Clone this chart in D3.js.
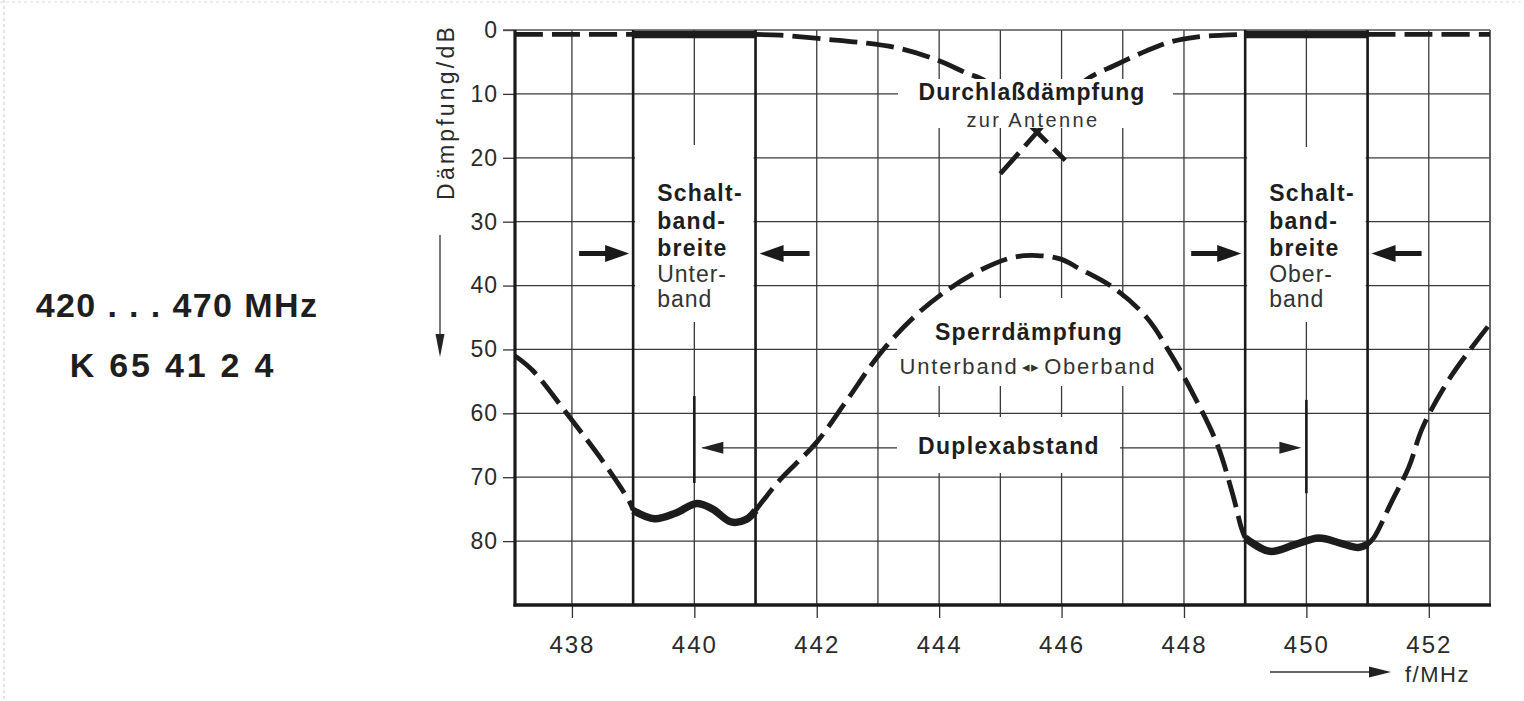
<!DOCTYPE html>
<html><head><meta charset="utf-8">
<script src="https://cdn.jsdelivr.net/npm/d3@7"></script>
<style>body{margin:0;background:#fff}svg{display:block}</style>
</head><body>
<svg id="c" width="1524" height="701"></svg>
<script>
// ---------- data ----------
const xTickValues = [438, 440, 442, 444, 446, 448, 450, 452];
const yTickValues = [0, 10, 20, 30, 40, 50, 60, 70, 80];
const gridFreqs = [438, 439, 440, 441, 442, 443, 444, 445, 446, 447, 448, 449, 450, 451, 452];
const gridLevels = [10, 20, 30, 40, 50, 60, 70, 80];
const bandLower = [439, 441];
const bandUpper = [449, 451];
const duplexMarkers = [440, 450];
// Durchlaßdämpfung (passband to antenna), lower band filter [MHz, dB]
const passLower = [[437.07,0.7],[438,0.7],[439,0.7],[440,0.7],[441,0.7],[441.4,0.8],[442.1,1.4],[442.76,2.0],[443.36,2.9],[443.97,4.7],[444.46,6.8],[444.72,7.8],[445.2,12.2],[445.6,16.0],[446.06,20.4]];
// Durchlaßdämpfung, upper band filter
const passUpper = [[445.0,22.5],[445.6,16.0],[446.0,11.6],[446.4,7.8],[446.9,5.4],[447.4,3.2],[447.8,1.8],[448.2,1.1],[448.65,0.8],[449,0.7],[450,0.7],[451,0.7],[452,0.7],[453,0.7]];
// Sperrdämpfung Unterband <-> Oberband
const stopband = [[437.07,51.0],[437.36,53.3],[437.97,60.7],[438.46,66.9],[438.95,74.0],[439.0,75.2],[439.35,76.5],[439.7,75.6],[440.04,74.1],[440.3,75.0],[440.6,77.0],[440.85,76.6],[441.0,75.2],[441.12,73.7],[441.4,70.4],[442.0,64.5],[442.49,58.0],[443.03,50.7],[443.58,45.0],[444.12,40.8],[444.67,37.6],[445.2,35.6],[445.6,35.3],[446.0,35.9],[446.3,37.4],[446.84,40.3],[447.39,45.0],[447.8,51.0],[448.15,57.0],[448.54,64.8],[448.8,72.8],[448.94,78.0],[449.0,79.5],[449.4,81.6],[449.8,80.6],[450.2,79.5],[450.55,80.3],[450.85,81.0],[451.0,80.5],[451.1,79.5],[451.4,73.7],[451.67,68.5],[451.9,62.2],[452.35,54.4],[453.0,46.0]];
const yTitle = "Dämpfung/dB";
const xTitle = "f/MHz";
const headline = ["420 . . . 470 MHz", "K 65 41 2 4"];
const passLabel = ["Durchlaßdämpfung", "zur Antenne"];
const stopLabel = ["Sperrdämpfung", "Unterband", "◂▸", "Oberband"];
const duplexLabel = "Duplexabstand";
const bandLabelBold = ["Schalt-", "band-", "breite"];
const bandLabelLower = ["Unter-", "band"];
const bandLabelUpper = ["Ober-", "band"];

// ---------- chart ----------
const svg = d3.select("#c");
const FONT = "'Liberation Sans', Arial, Helvetica, sans-serif";
const INK = "#1e1e1e";
const x = d3.scaleLinear().domain([437.07, 453]).range([515, 1490]);
const y = d3.scaleLinear().domain([0, 90]).range([30, 605]);

svg.append("rect").attr("width", 1524).attr("height", 701).attr("fill", "#fff");
// faint scan border
svg.append("line").attr("x1", 4).attr("x2", 4).attr("y1", 0).attr("y2", 701)
  .attr("stroke", "#e4e4e4").attr("stroke-width", 2).attr("stroke-dasharray", "3,3");
svg.append("line").attr("x1", 0).attr("x2", 1524).attr("y1", 2).attr("y2", 2)
  .attr("stroke", "#e8e8e8").attr("stroke-width", 1.5).attr("stroke-dasharray", "3,3");

const grid = svg.append("g").attr("stroke", "#3a3a3a").attr("stroke-width", 1.3);
grid.selectAll(".gx").data(gridFreqs).join("line")
  .attr("x1", d => x(d)).attr("x2", d => x(d)).attr("y1", y(0)).attr("y2", y(90));
grid.selectAll(".gy").data(gridLevels).join("line")
  .attr("x1", x(437.07)).attr("x2", x(453)).attr("y1", d => y(d)).attr("y2", d => y(d));

// white label backgrounds hiding the grid
const masks = [
  [x(439) + 2, 145, x(441) - x(439) - 4, 177],
  [x(449) + 2, 147, x(451) - x(449) - 4, 175],
  [897, 298, 268, 88],
  [897, 417, 223, 56]
];
svg.append("g").selectAll("rect").data(masks).join("rect")
  .attr("x", d => d[0]).attr("y", d => d[1]).attr("width", d => d[2]).attr("height", d => d[3])
  .attr("fill", "#fff");

// axes
const yAxis = d3.axisLeft(y).tickValues(yTickValues).tickSize(12).tickPadding(5);
const gy = svg.append("g").attr("transform", `translate(${x(437.07)},0)`).call(yAxis);
gy.select(".domain").remove();
gy.selectAll("line").attr("stroke", "#333").attr("stroke-width", 1.3);
gy.selectAll("text").attr("font-family", FONT).attr("font-size", 23).attr("fill", "#2a2a2a")
  .attr("letter-spacing", 1);

const xAxis = d3.axisBottom(x).tickValues(xTickValues).tickSize(13).tickPadding(18);
const gx = svg.append("g").attr("transform", `translate(0,${y(90)})`).call(xAxis);
gx.select(".domain").remove();
gx.selectAll("line").attr("stroke", "#333").attr("stroke-width", 1.3);
gx.selectAll("text").attr("font-family", FONT).attr("font-size", 24).attr("fill", "#2a2a2a")
  .attr("letter-spacing", 2);

// frame
const fr = svg.append("g");
fr.append("line").attr("x1", x(437.07) - 12).attr("x2", x(453)).attr("y1", y(0)).attr("y2", y(0))
  .attr("stroke", "#555").attr("stroke-width", 1.5);
fr.append("line").attr("x1", x(453)).attr("x2", x(453)).attr("y1", y(0)).attr("y2", y(90))
  .attr("stroke", "#555").attr("stroke-width", 1.8);
fr.append("line").attr("x1", x(437.07)).attr("x2", x(437.07)).attr("y1", y(0)).attr("y2", y(90) + 1.5)
  .attr("stroke", "#1a1a1a").attr("stroke-width", 3.2);
fr.append("line").attr("x1", x(437.07) - 1.5).attr("x2", x(453) + 1).attr("y1", y(90)).attr("y2", y(90))
  .attr("stroke", "#1a1a1a").attr("stroke-width", 3.5);
// band boundaries
fr.selectAll(".band").data([...bandLower, ...bandUpper]).join("line")
  .attr("x1", d => x(d)).attr("x2", d => x(d)).attr("y1", y(0)).attr("y2", y(90))
  .attr("stroke", "#1a1a1a").attr("stroke-width", 2.6);

// curves
const line = d3.line().x(d => x(d[0])).y(d => y(d[1])).curve(d3.curveCatmullRom.alpha(0.5));
const seg = (arr, a, b) => arr.filter(d => d[0] >= a - 1e-9 && d[0] <= b + 1e-9);
const dashed = (data) => svg.append("path").attr("d", line(data)).attr("fill", "none")
  .attr("stroke", "#1c1c1c").attr("stroke-width", 4.8).attr("stroke-dasharray", "28,9");
const thick = (data) => svg.append("path").attr("d", line(data)).attr("fill", "none")
  .attr("stroke", "#1c1c1c").attr("stroke-width", 7.5).attr("stroke-linecap", "butt");

dashed(seg(passLower, 437.07, bandLower[0]));
dashed(seg(passLower, bandLower[1], 447));
thick(seg(passLower, bandLower[0], bandLower[1]));
dashed(seg(passUpper, 444, bandUpper[0]));
dashed(seg(passUpper, bandUpper[1], 453));
thick(seg(passUpper, bandUpper[0], bandUpper[1]));
dashed(seg(stopband, 437.07, bandLower[0]));
dashed(seg(stopband, bandLower[1], bandUpper[0]));
dashed(seg(stopband, bandUpper[1], 453));
thick(seg(stopband, bandLower[0], bandLower[1]));
thick(seg(stopband, bandUpper[0], bandUpper[1]));

// mask behind passband label (hides curve tops)
svg.append("rect").attr("x", 898).attr("y", 79).attr("width", 275).attr("height", 49).attr("fill", "#fff");

// duplex markers
svg.selectAll(".dm").data(duplexMarkers).join("line")
  .attr("x1", d => x(d)).attr("x2", d => x(d))
  .attr("y1", (d, i) => y(i ? 57.9 : 57.3)).attr("y2", (d, i) => y(i ? 72.5 : 70.9))
  .attr("stroke", "#1a1a1a").attr("stroke-width", 2.6);
// dimension line
const dimY = y(65.4);
const dl = svg.append("g").attr("stroke", "#333").attr("stroke-width", 1.3);
dl.append("line").attr("x1", x(440) + 8).attr("x2", 897).attr("y1", dimY).attr("y2", dimY);
dl.append("line").attr("x1", 1120).attr("x2", x(450) - 8).attr("y1", dimY).attr("y2", dimY);
const tri = (tipX, tipY, dir, len, half) =>
  `M${tipX},${tipY}L${tipX - dir * len},${tipY - half}L${tipX - dir * len},${tipY + half}Z`;
svg.append("path").attr("d", tri(x(440) + 7, dimY, -1, 22, 6)).attr("fill", "#222");
svg.append("path").attr("d", tri(x(450) - 5, dimY, 1, 22, 6)).attr("fill", "#222");

// bold band arrows
const bandArrows = [[bandLower[0], 1], [bandLower[1], -1], [bandUpper[0], 1], [bandUpper[1], -1]];
const ay = y(35);
bandArrows.forEach(([edge, dir]) => {
  const tip = x(edge) - dir * 4;
  const tail = tip - dir * 50;
  svg.append("line").attr("x1", tail).attr("x2", tip - dir * 18).attr("y1", ay).attr("y2", ay)
    .attr("stroke", "#1a1a1a").attr("stroke-width", 5);
  svg.append("path").attr("d", tri(tip, ay, dir, 24, 8.5)).attr("fill", "#1a1a1a");
});

// y axis direction arrow
svg.append("line").attr("x1", 440).attr("x2", 440).attr("y1", 235).attr("y2", 340)
  .attr("stroke", "#333").attr("stroke-width", 1.3);
svg.append("path").attr("d", "M440,357L435.5,334L444.5,334Z").attr("fill", "#222");
// f/MHz arrow
svg.append("line").attr("x1", 1270).attr("x2", 1375).attr("y1", 672).attr("y2", 672)
  .attr("stroke", "#333").attr("stroke-width", 1.3);
svg.append("path").attr("d", tri(1391, 672, 1, 22, 5.5)).attr("fill", "#222");

// texts
const T = (txt, px, py, size, weight, anchor, ls) => svg.append("text")
  .attr("x", px).attr("y", py).attr("font-family", FONT).attr("font-size", size)
  .attr("font-weight", weight).attr("text-anchor", anchor).attr("fill", INK)
  .attr("letter-spacing", ls).text(txt);

T(headline[0], 177, 317, 34, "bold", "middle", 1.4);
T(headline[1], 173, 377, 34, "bold", "middle", 2.8);

svg.append("text").attr("transform", "translate(454,112) rotate(-90)")
  .attr("font-family", FONT).attr("font-size", 23).attr("text-anchor", "middle")
  .attr("fill", "#2a2a2a").attr("letter-spacing", 3.2).text(yTitle);
T(xTitle, 1405, 682, 22, "normal", "start", 1.5).attr("fill", "#2a2a2a");

T(passLabel[0], 1032, 100, 23, "bold", "middle", 1);
T(passLabel[1], 1033, 127, 20, "normal", "middle", 2.4).attr("fill", "#333");

const st = svg.append("text").attr("x", 1028).attr("y", 374).attr("font-family", FONT)
  .attr("font-size", 22).attr("text-anchor", "middle").attr("fill", "#333").attr("letter-spacing", 1.8);
st.append("tspan").text(stopLabel[1]);
st.append("tspan").attr("font-size", 15).attr("dx", 3).attr("dy", -2).text(stopLabel[2]);
st.append("tspan").attr("dx", 3).attr("dy", 2).text(stopLabel[3]);
T(stopLabel[0], 1029, 340, 23, "bold", "middle", 1.3);
T(duplexLabel, 1009, 454, 23, "bold", "middle", 1.3);

const bandRows = [201, 229, 256, 282, 307];
[[bandLower, bandLabelLower], [bandUpper, bandLabelUpper]].forEach(([band, sub]) => {
  const lx = x(band[0]) + 24;
  bandLabelBold.forEach((t, i) => T(t, lx, bandRows[i], 23, "bold", "start", 1.3));
  sub.forEach((t, i) => T(t, lx, bandRows[3 + i], 23, "normal", "start", 1).attr("fill", "#333"));
});
</script>
</body></html>
